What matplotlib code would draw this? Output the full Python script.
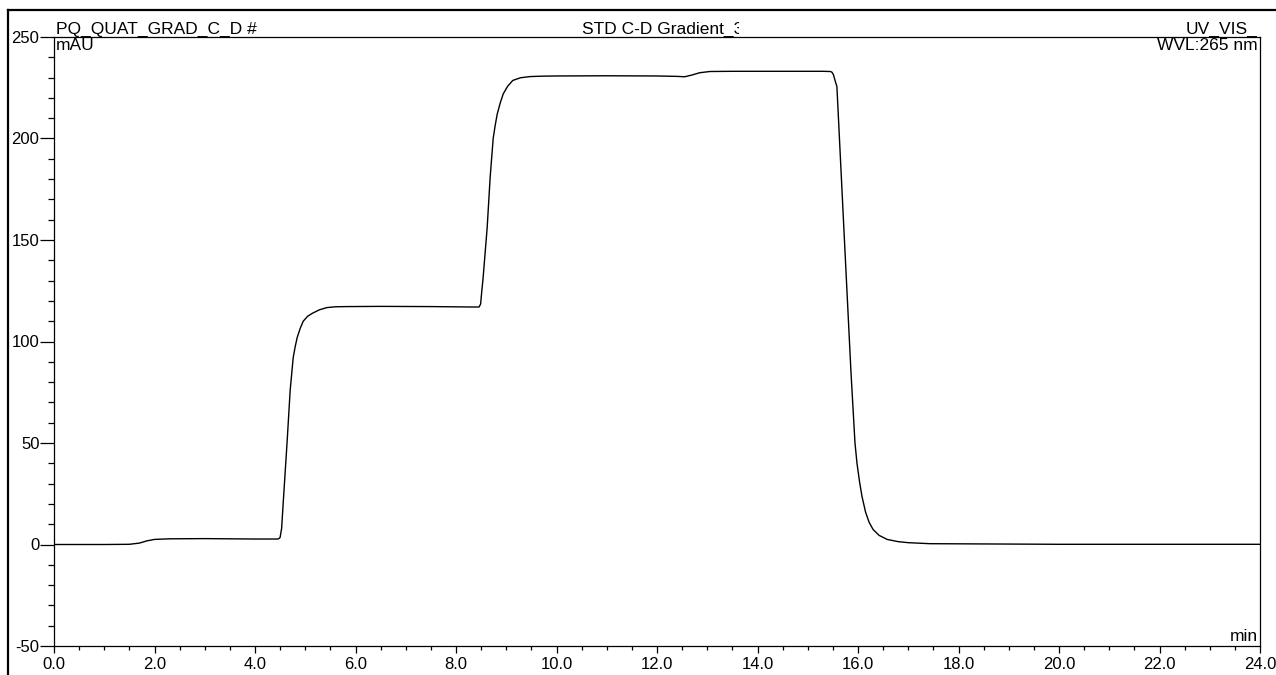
import matplotlib
matplotlib.use("Agg")
import matplotlib.pyplot as plt
from matplotlib.ticker import MultipleLocator, FormatStrFormatter
from matplotlib.lines import Line2D
from matplotlib.transforms import Bbox

plt.rcParams['font.family'] = ['Liberation Sans', 'DejaVu Sans']
plt.rcParams['axes.unicode_minus'] = False

# ---- data ----
time_min = [0.0, 1.0, 1.5, 1.7, 1.85, 2.0, 2.3, 3.0, 4.0, 4.44,
            4.47, 4.50, 4.53, 4.56, 4.64, 4.70, 4.76, 4.80, 4.84, 4.90,
            4.96, 5.05, 5.15, 5.28, 5.43, 5.60, 5.83,
            6.5, 7.5, 8.3, 8.46,
            8.49, 8.51, 8.54, 8.62, 8.68, 8.74, 8.78, 8.82, 8.88, 8.94,
            9.03, 9.13, 9.28, 9.47, 9.70, 10.0,
            11.0, 12.0, 12.4, 12.55, 12.7, 12.85, 13.05, 13.5, 14.5, 15.3,
            15.45, 15.48, 15.51, 15.55, 15.58, 15.72, 15.86, 15.94, 15.98, 16.03,
            16.08, 16.15, 16.22, 16.30, 16.42, 16.58, 16.80, 17.0,
            17.43, 20.0, 24.0]
signal_mau = [0.0, 0.0, 0.1, 0.7, 1.8, 2.5, 2.8, 2.9, 2.7, 2.7,
              2.8, 3.5, 8.0, 20.0, 51.0, 76.0, 92.0, 97.5, 102.0, 106.5,
              110.0, 112.5, 114.0, 115.6, 116.7, 117.1, 117.2,
              117.3, 117.2, 117.0, 117.0,
              118.5, 124.0, 131.5, 156.0, 181.0, 200.0, 206.5, 212.0, 217.5, 222.0,
              225.8, 228.6, 229.9, 230.5, 230.7, 230.8,
              230.9, 230.8, 230.6, 230.4, 231.3, 232.4, 233.0, 233.1, 233.1, 233.1,
              233.0, 232.7, 231.5, 228.0, 225.6, 155.0, 85.0, 50.0, 40.0, 31.0,
              23.6, 16.0, 11.0, 7.4, 4.5, 2.5, 1.4, 0.9,
              0.4, 0.1, 0.1]

x_ticks = [0.0, 2.0, 4.0, 6.0, 8.0, 10.0, 12.0, 14.0, 16.0, 18.0, 20.0, 22.0, 24.0]
y_ticks = [-50, 0, 50, 100, 150, 200, 250]

title_left = "PQ_QUAT_GRAD_C_D #"
title_mid = "STD C-D Gradient_3"
title_right = "UV_VIS_"
y_unit = "mAU"
wvl_text = "WVL:265 nm"
x_unit = "min"

W, H = 1276, 675
fig = plt.figure(figsize=(W / 100, H / 100), dpi=100)
fig.patch.set_facecolor('white')

left, right, top, bottom = 54, 1260, 37, 646
ax = fig.add_axes([left / W, 1 - bottom / H, (right - left) / W, (bottom - top) / H])

ax.plot(time_min, signal_mau, color='black', lw=1.0, solid_joinstyle='round')

ax.set_xlim(x_ticks[0], x_ticks[-1])
ax.set_ylim(y_ticks[0], y_ticks[-1])
ax.set_xticks(x_ticks)
ax.set_yticks(y_ticks)
ax.xaxis.set_major_formatter(FormatStrFormatter('%.1f'))
ax.xaxis.set_minor_locator(MultipleLocator(0.5))
ax.yaxis.set_minor_locator(MultipleLocator(10))

for s in ax.spines.values():
    s.set_linewidth(0.9)
    s.set_color('black')

ax.tick_params(axis='x', which='major', direction='out', length=5, width=0.9,
               pad=3, labelsize=12)
ax.tick_params(axis='x', which='minor', direction='out', length=3, width=0.9)
ax.tick_params(axis='y', which='major', direction='out', length=10, width=0.9,
               pad=0.5, labelsize=12)
ax.tick_params(axis='y', which='minor', direction='out', length=4, width=0.9)

fs = 12.5
ax.text(0.0015, 1.0, title_left, transform=ax.transAxes, ha='left', va='bottom',
        fontsize=fs)
t_mid = ax.text((582 - left) / (right - left), 1.0, title_mid, transform=ax.transAxes,
                ha='left', va='bottom', fontsize=fs)
ax.text(0.998, 1.0, title_right, transform=ax.transAxes, ha='right', va='bottom',
        fontsize=fs)
ax.text(0.0015, 0.998, y_unit, transform=ax.transAxes, ha='left', va='top', fontsize=fs)
ax.text(0.998, 0.998, wvl_text, transform=ax.transAxes, ha='right', va='top', fontsize=fs)
ax.text(0.998, 0.003, x_unit, transform=ax.transAxes, ha='right', va='bottom', fontsize=fs)

# clip the middle title like the original printout
t_mid.set_clip_on(True)
t_mid.set_clip_box(Bbox.from_extents(0, 0, 738.5, H))

# outer printout frame lines (top and left)
fig.add_artist(Line2D([8 / W, 1.0], [1 - 10 / H, 1 - 10 / H], transform=fig.transFigure,
                      color='black', lw=1.6))
fig.add_artist(Line2D([8 / W, 8 / W], [0.0, 1 - 10 / H], transform=fig.transFigure,
                      color='black', lw=1.6))

fig.savefig("out.png", dpi=100)
